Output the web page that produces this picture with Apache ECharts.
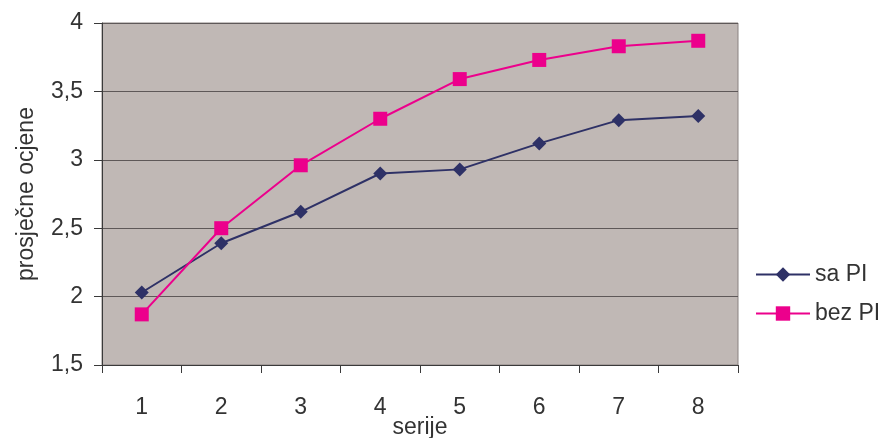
<!DOCTYPE html>
<html>
<head>
<meta charset="utf-8">
<title>prosječne ocjene po serijama</title>
<script src="https://cdn.jsdelivr.net/npm/echarts@6/dist/echarts.min.js"></script>
<style>
  html, body { margin: 0; padding: 0; background: #ffffff; }
  #chart { width: 888px; height: 438px; }
</style>
</head>
<body>
<div id="chart"></div>
<script>
// Series categories (x axis)
const categories = ['1', '2', '3', '4', '5', '6', '7', '8'];

// Average grades per series
const saPI = [2.03, 2.39, 2.62, 2.90, 2.93, 3.12, 3.29, 3.32];
const bezPI = [1.87, 2.50, 2.96, 3.30, 3.59, 3.73, 3.83, 3.87];

// Value axis range
const yMin = 1.5;
const yMax = 4;
const yStep = 0.5;

const textColor = '#333333';
const fontFamily = '"Liberation Sans", Arial, Helvetica, sans-serif';

const chart = echarts.init(document.getElementById('chart'), null, { renderer: 'canvas' });

chart.setOption({
  animation: false,
  backgroundColor: '#ffffff',
  textStyle: { fontFamily: fontFamily, color: textColor },
  grid: {
    left: 102,
    right: 150,
    top: 23,
    bottom: 73,
    outerBoundsMode: 'none',
    containLabel: false,
    show: true,
    backgroundColor: '#c0b8b5',
    borderColor: '#8a8280',
    borderWidth: 1
  },
  legend: {
    orient: 'vertical',
    left: 755,
    top: 263,
    padding: 0,
    itemWidth: 54,
    itemHeight: 18,
    itemGap: 16,
    textStyle: { fontSize: 23, color: textColor, fontFamily: fontFamily },
    data: ['sa PI', 'bez PI']
  },
  xAxis: {
    type: 'category',
    data: categories,
    boundaryGap: true,
    name: 'serije',
    nameLocation: 'middle',
    nameGap: 51,
    nameMoveOverlap: false,
    nameTextStyle: { fontSize: 23, color: textColor },
    axisLine: { show: true, lineStyle: { color: '#3a3a3a', width: 1 } },
    axisTick: { show: true, length: 8, inside: false, lineStyle: { color: '#3a3a3a' } },
    axisLabel: { fontSize: 23, color: textColor, margin: 31 },
    splitLine: { show: false }
  },
  yAxis: {
    type: 'value',
    min: yMin,
    max: yMax,
    interval: yStep,
    name: 'prosječne ocjene',
    nameLocation: 'middle',
    nameGap: 64,
    nameRotate: 90,
    nameMoveOverlap: false,
    nameTextStyle: { fontSize: 23, color: textColor },
    axisLine: { show: true, lineStyle: { color: '#3a3a3a', width: 1 } },
    axisTick: { show: true, length: 8, inside: false, lineStyle: { color: '#3a3a3a' } },
    axisLabel: {
      fontSize: 23,
      color: textColor,
      margin: 19,
      formatter: function (v) { return String(v).replace('.', ','); }
    },
    splitLine: { show: true, lineStyle: { color: '#5e5858', width: 1 } }
  },
  series: [
    {
      name: 'sa PI',
      type: 'line',
      data: saPI,
      symbol: 'diamond',
      symbolSize: 14,
      showAllSymbol: true,
      color: '#2e3166',
      lineStyle: { color: '#2e3166', width: 2 },
      itemStyle: { color: '#2e3166' }
    },
    {
      name: 'bez PI',
      type: 'line',
      data: bezPI,
      symbol: 'rect',
      symbolSize: 14,
      showAllSymbol: true,
      color: '#ec008c',
      lineStyle: { color: '#ec008c', width: 2 },
      itemStyle: { color: '#ec008c' }
    }
  ]
});
</script>
</body>
</html>
